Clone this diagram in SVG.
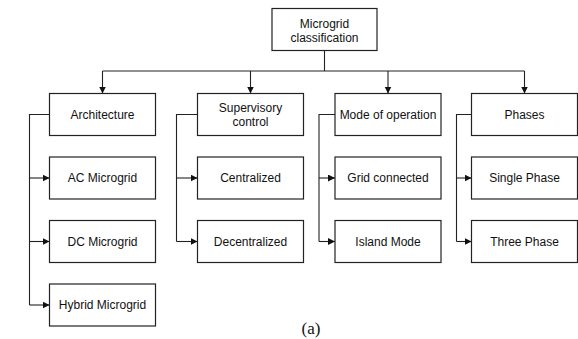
<svg xmlns="http://www.w3.org/2000/svg" width="578" height="339" viewBox="0 0 578 339">
<style>
.box{fill:#fff;stroke:#222;stroke-width:1.2}
.lbl{font-family:"Liberation Sans",Arial,sans-serif;font-size:12px;fill:#111;text-anchor:middle}
.ln{fill:none;stroke:#222;stroke-width:1.1}
.arr{fill:none;stroke:#222;stroke-width:1.1;marker-end:url(#ah)}
</style>
<defs>
<marker id="ah" markerUnits="userSpaceOnUse" markerWidth="8" markerHeight="8" refX="7" refY="3.5" orient="auto">
<path d="M0,0 L7,3.5 L0,7 z" fill="#111"/>
</marker>
</defs>
<rect width="578" height="339" fill="#fff"/>
<g id="connectors">
<path class="ln" d="M324.5 50.5 V71 M102.5 71 H524.5"/>
<path class="arr" d="M102.5 71 V93.5"/>
<path class="arr" d="M250.5 71 V93.5"/>
<path class="arr" d="M388 71 V93.5"/>
<path class="arr" d="M524.5 71 V93.5"/>
<path class="ln" d="M49.5 114.5 H29.5 V305"/>
<path class="arr" d="M29.5 178 H49.5"/>
<path class="arr" d="M29.5 241.5 H49.5"/>
<path class="arr" d="M29.5 305 H49.5"/>
<path class="ln" d="M197.5 114.5 H176.5 V241.5"/>
<path class="arr" d="M176.5 178 H197.5"/>
<path class="arr" d="M176.5 241.5 H197.5"/>
<path class="ln" d="M335 114.5 H319 V241.5"/>
<path class="arr" d="M319 178 H335"/>
<path class="arr" d="M319 241.5 H335"/>
<path class="ln" d="M471.5 114.5 H456.5 V241.5"/>
<path class="arr" d="M456.5 178 H471.5"/>
<path class="arr" d="M456.5 241.5 H471.5"/>
</g>
<g id="root"><rect class="box" x="272" y="8.5" width="105" height="42"/><text class="lbl" x="324.5" y="27.5">Microgrid</text><text class="lbl" x="324.5" y="41.5">classification</text></g>
<g id="architecture"><rect class="box" x="49.5" y="93.5" width="106" height="42"/><text class="lbl" x="102.5" y="118.5">Architecture</text></g>
<g id="ac"><rect class="box" x="49.5" y="157" width="106" height="42"/><text class="lbl" x="102.5" y="182">AC Microgrid</text></g>
<g id="dc"><rect class="box" x="49.5" y="220.5" width="106" height="42"/><text class="lbl" x="102.5" y="245.5">DC Microgrid</text></g>
<g id="hybrid"><rect class="box" x="49.5" y="284" width="106" height="42"/><text class="lbl" x="102.5" y="309">Hybrid Microgrid</text></g>
<g id="supervisory"><rect class="box" x="197.5" y="93.5" width="106" height="42"/><text class="lbl" x="250.5" y="112">Supervisory</text><text class="lbl" x="250.5" y="126">control</text></g>
<g id="centralized"><rect class="box" x="197.5" y="157" width="106" height="42"/><text class="lbl" x="250.5" y="182">Centralized</text></g>
<g id="decentralized"><rect class="box" x="197.5" y="220.5" width="106" height="42"/><text class="lbl" x="250.5" y="245.5">Decentralized</text></g>
<g id="mode"><rect class="box" x="335" y="93.5" width="106" height="42"/><text class="lbl" x="388" y="118.5">Mode of operation</text></g>
<g id="grid"><rect class="box" x="335" y="157" width="106" height="42"/><text class="lbl" x="388" y="182">Grid connected</text></g>
<g id="island"><rect class="box" x="335" y="220.5" width="106" height="42"/><text class="lbl" x="388" y="245.5">Island Mode</text></g>
<g id="phases"><rect class="box" x="471.5" y="93.5" width="106" height="42"/><text class="lbl" x="524.5" y="118.5">Phases</text></g>
<g id="single"><rect class="box" x="471.5" y="157" width="106" height="42"/><text class="lbl" x="524.5" y="182">Single Phase</text></g>
<g id="three"><rect class="box" x="471.5" y="220.5" width="106" height="42"/><text class="lbl" x="524.5" y="245.5">Three Phase</text></g>
<text x="311" y="334" font-family="'Liberation Serif','Times New Roman',serif" font-size="17" fill="#111" text-anchor="middle">(a)</text>
</svg>
